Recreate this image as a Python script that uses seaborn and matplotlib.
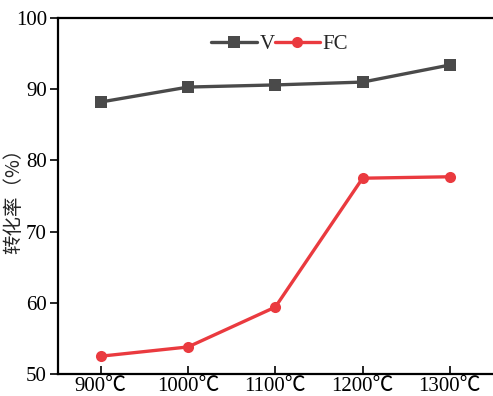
import pandas as pd
import matplotlib
matplotlib.use("Agg")
import matplotlib.pyplot as plt
import seaborn as sns

temps = ["900℃", "1000℃", "1100℃", "1200℃", "1300℃"]
v_rate = [88.2, 90.3, 90.6, 91.0, 93.4]
fc_rate = [52.5, 53.8, 59.4, 77.5, 77.7]

sns.set_style("ticks")
plt.rcParams['font.family'] = ['Liberation Serif', 'Noto Sans CJK SC']

df = pd.DataFrame({
    "temp": temps * 2,
    "pos": list(range(len(temps))) * 2,
    "rate": v_rate + fc_rate,
    "series": ["V"] * len(temps) + ["FC"] * len(temps),
})

fig = plt.figure(figsize=(4.93, 3.96), dpi=100)
ax = fig.add_axes([58 / 493, 22 / 396, 439 / 493, 356 / 396])

sns.lineplot(data=df, x="pos", y="rate", hue="series", style="series",
             palette={"V": "#4a4a4a", "FC": "#ea3a3f"},
             markers={"V": "s", "FC": "o"}, dashes=False,
             markersize=8, linewidth=2.4, markeredgewidth=0, ax=ax)

ax.set_xlim(-0.49, 4.54)
ax.set_ylim(50, 100)
ax.set_xticks(range(len(temps)))
ax.set_xticklabels(temps)
ax.set_yticks([50, 60, 70, 80, 90, 100])
ax.tick_params(axis="both", labelsize=15, width=1.2, length=6, colors="black")
ax.tick_params(axis="x", direction="in", pad=2)
ax.tick_params(axis="y", direction="out", pad=2)
for s in ["left", "bottom", "top"]:
    ax.spines[s].set_linewidth(1.6)
    ax.spines[s].set_color("black")
ax.spines["right"].set_visible(False)
ax.set_xlabel("")
ax.set_ylabel("转化率（%）", fontsize=14, family=['Noto Sans CJK SC'])
ax.yaxis.set_label_coords(-0.076, 0.5)

ax.legend(loc="upper center", bbox_to_anchor=(0.505, 0.995), ncol=2, frameon=False,
          fontsize=15, handlelength=2.2, handletextpad=0.1, columnspacing=0.0,
          borderaxespad=0.3)

fig.savefig("out.png", dpi=100)
